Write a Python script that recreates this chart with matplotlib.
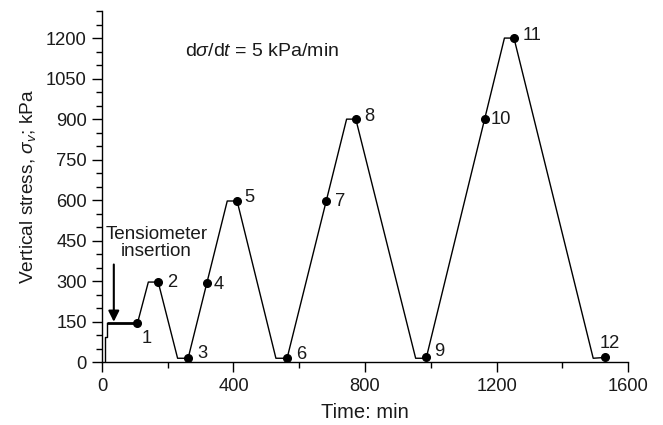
import matplotlib
matplotlib.use("Agg")
import matplotlib.pyplot as plt
from matplotlib.ticker import MultipleLocator

plt.rcParams["font.family"] = ["Liberation Sans", "DejaVu Sans"]
plt.rcParams["mathtext.fontset"] = "custom"
plt.rcParams["mathtext.rm"] = "Liberation Sans"
plt.rcParams["mathtext.it"] = "Liberation Sans:italic"

# Loading history: start-up ramp and tensiometer insertion hold
start_time = [9, 9, 16, 16]
start_stress = [0, 95, 95, 145]
hold_time = [16, 108]
hold_stress = [145, 145]

# Loading/unloading cycles at 5 kPa/min
cycle_time = [108, 141, 171, 230, 262, 381, 411, 529, 563, 744, 772,
              954, 986, 1224, 1253, 1494, 1530]
cycle_stress = [145, 297, 297, 15, 15, 597, 597, 15, 15, 900, 900,
                15, 15, 1200, 1200, 15, 18]

# Measurement stages
stage_labels = ["1", "2", "3", "4", "5", "6", "7", "8", "9", "10", "11", "12"]
stage_time = [108, 171, 262, 320, 411, 563, 682, 772, 986, 1164, 1253, 1530]
stage_stress = [145, 297, 15, 295, 597, 15, 597, 900, 18, 900, 1200, 20]
label_offsets = [(9, -15), (14, 0), (14, 5), (12, -2), (12, 4), (14, 4),
                 (14, 0), (14, 3), (13, 6), (16, 0), (18, 3), (5, 13)]

fig = plt.figure(figsize=(6.63, 4.25), dpi=100)
ax = fig.add_axes([0.1538, 0.1475, 0.7935, 0.8265])

ax.plot(start_time, start_stress, color="black", lw=1.0)
ax.plot(hold_time, hold_stress, color="black", lw=2.0, solid_capstyle="butt")
ax.plot(cycle_time, cycle_stress, color="black", lw=1.0)
ax.plot(stage_time, stage_stress, "o", color="black", ms=5.5)

for lab, t, s, off in zip(stage_labels, stage_time, stage_stress,
                          label_offsets):
    ax.annotate(lab, (t, s), xytext=off, textcoords="offset pixels",
                ha="center", va="center", fontsize=13.2, color="#1a1a1a")

ax.annotate("", xy=(36, 150), xytext=(36, 362),
            arrowprops=dict(arrowstyle="-|>", color="black", lw=1.5,
                            mutation_scale=16, shrinkA=0, shrinkB=0))
ax.text(166, 442, "Tensiometer\ninsertion", ha="center", va="center",
        fontsize=13.6, linespacing=1.05, color="#1a1a1a")

ax.text(252, 1150, r"d$\sigma$/d$t$ = 5 kPa/min", ha="left", va="center",
        fontsize=14, color="#1a1a1a")

ax.set_xlim(0, 1600)
ax.set_ylim(0, 1300)
ax.xaxis.set_major_locator(MultipleLocator(400))
ax.xaxis.set_minor_locator(MultipleLocator(200))
ax.yaxis.set_minor_locator(MultipleLocator(50))
ax.set_yticks([0, 150, 300, 450, 600, 750, 900, 1050, 1200])

for side in ("top", "right"):
    ax.spines[side].set_visible(False)
for side in ("left", "bottom"):
    ax.spines[side].set_linewidth(1.0)

ax.tick_params(which="major", direction="out", length=7, width=1.0,
               labelsize=13.2, labelcolor="#1a1a1a", pad=4)
ax.tick_params(which="minor", direction="out", length=4, width=1.0)

ax.set_xlabel("Time: min", fontsize=14.5, labelpad=6, color="#1a1a1a")
ax.set_ylabel(r"Vertical stress, $\sigma_v$; kPa", fontsize=13.8,
              labelpad=6, color="#1a1a1a")

fig.savefig("out.png", dpi=100)
